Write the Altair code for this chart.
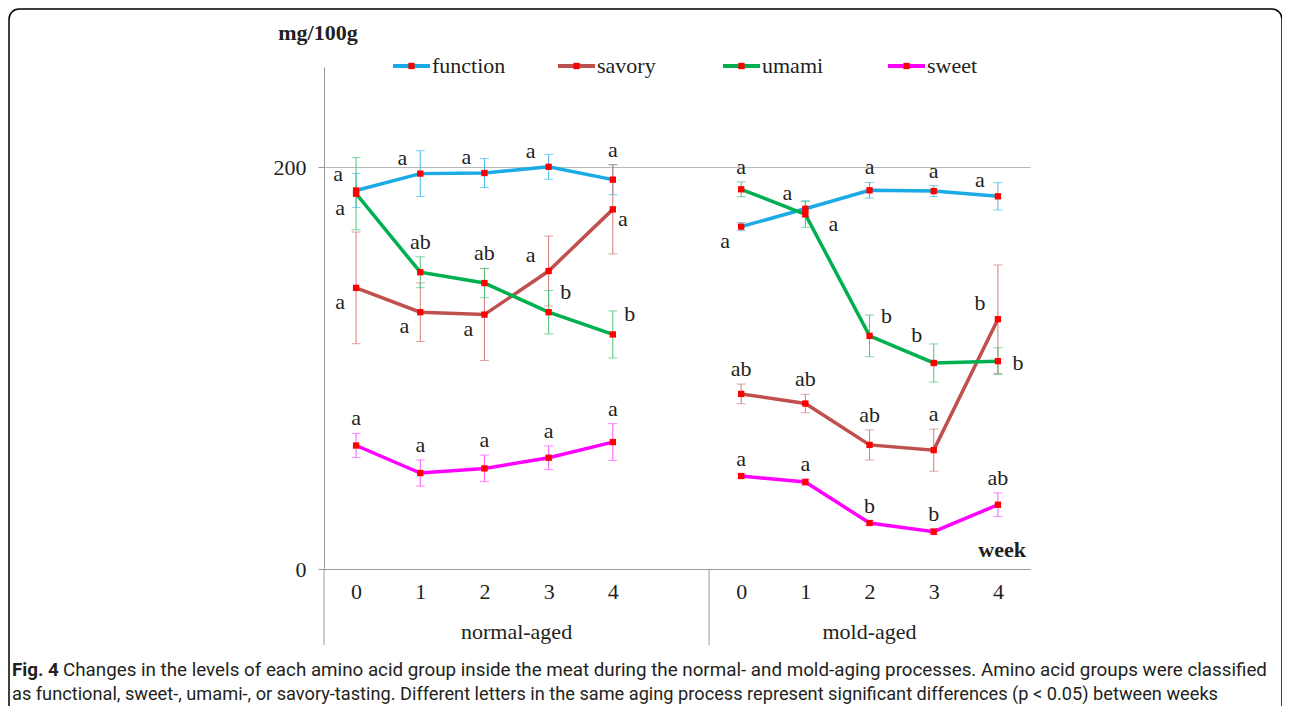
import altair as alt
import pandas as pd

# ---------------- data ----------------
weeks = [0, 1, 2, 3, 4]
processes = ["normal-aged", "mold-aged"]
series_names = ["function", "savory", "umami", "sweet"]

# normal-aged (mg/100g)
function_normal = [188.5, 196.9, 197.2, 200.3, 193.9]
function_normal_err = [8.5, 11.4, 7.2, 6.2, 7.5]
savory_normal = [140.0, 127.9, 126.7, 148.4, 179.1]
savory_normal_err = [27.8, 14.6, 22.9, 17.4, 22.2]
umami_normal = [186.9, 147.8, 142.4, 127.9, 116.8]
umami_normal_err = [18.0, 7.7, 7.3, 10.8, 11.7]
sweet_normal = [61.5, 47.8, 50.1, 55.4, 63.2]
sweet_normal_err = [6.0, 6.5, 6.6, 5.9, 9.2]

# mold-aged (mg/100g)
function_mold = [170.5, 179.4, 188.6, 188.2, 185.6]
function_mold_err = [2.0, 4.0, 3.9, 2.7, 6.8]
savory_mold = [87.2, 82.4, 61.8, 59.2, 124.4]
savory_mold_err = [4.9, 4.6, 7.5, 10.5, 27.0]
umami_mold = [189.1, 176.6, 116.1, 102.6, 103.5]
umami_mold_err = [3.7, 6.4, 10.4, 9.5, 6.7]
sweet_mold = [46.3, 43.3, 22.9, 18.6, 32.0]
sweet_mold_err = [1.0, 1.5, 1.2, 1.5, 5.9]

# significance letters
function_normal_letters = ["a", "a", "a", "a", "a"]
savory_normal_letters = ["a", "a", "a", "a", "a"]
umami_normal_letters = ["a", "ab", "ab", "b", "b"]
sweet_normal_letters = ["a", "a", "a", "a", "a"]
function_mold_letters = ["a", "a", "a", "a", "a"]
savory_mold_letters = ["ab", "ab", "ab", "a", "b"]
umami_mold_letters = ["a", "a", "b", "b", "b"]
sweet_mold_letters = ["a", "a", "b", "b", "ab"]

# where each letter sits relative to its point
function_normal_place = ["ul", "ul", "ul", "ul", "t"]
savory_normal_place = ["dl", "dl", "dl", "ul", "dr"]
umami_normal_place = ["dl", "t", "t", "ur", "ur"]
sweet_normal_place = ["t", "t", "t", "t", "t"]
function_mold_place = ["dl", "ul", "t", "t", "ul"]
savory_mold_place = ["t", "t", "t", "t", "ul"]
umami_mold_place = ["t", "dr2", "ur", "ul2", "r"]
sweet_mold_place = ["t", "t", "t", "t", "t"]

caption_line1_bold = "Fig. 4"
caption_line1 = ("Changes in the levels of each amino acid group inside the meat during the normal- and "
                 "mold-aging processes. Amino acid groups were classified")
caption_line2 = ("as functional, sweet-, umami-, or savory-tasting. Different letters in the same aging "
                 "process represent significant differences (p < 0.05) between weeks")

# ---------------- styles ----------------
line_colors = ["#1aaae6", "#c0504d", "#00b050", "#ff00ff"]
bar_colors = ["#45b9ec", "#d27c79", "#4cc479", "#ff55ff"]
SERIF = "Liberation Serif, Times New Roman, serif"
SANS = "Liberation Sans Narrow, Roboto, Noto Sans, sans-serif"
TXT = "#231f20"

table = {
    ("function", "normal-aged"): (function_normal, function_normal_err, function_normal_letters, function_normal_place),
    ("savory", "normal-aged"): (savory_normal, savory_normal_err, savory_normal_letters, savory_normal_place),
    ("umami", "normal-aged"): (umami_normal, umami_normal_err, umami_normal_letters, umami_normal_place),
    ("sweet", "normal-aged"): (sweet_normal, sweet_normal_err, sweet_normal_letters, sweet_normal_place),
    ("function", "mold-aged"): (function_mold, function_mold_err, function_mold_letters, function_mold_place),
    ("savory", "mold-aged"): (savory_mold, savory_mold_err, savory_mold_letters, savory_mold_place),
    ("umami", "mold-aged"): (umami_mold, umami_mold_err, umami_mold_letters, umami_mold_place),
    ("sweet", "mold-aged"): (sweet_mold, sweet_mold_err, sweet_mold_letters, sweet_mold_place),
}
rows = []
for (s, p), (vals, errs, lets, places) in table.items():
    for w, v, e, l, pl in zip(weeks, vals, errs, lets, places):
        rows.append(dict(series=s, process=p, week=w, value=v, err=e, letter=l, place=pl))
df = pd.DataFrame(rows)

PW, PH = 706, 502
gap = len(weeks) + 1  # one empty category slot before the mold-aged group

x_axis = alt.Axis(values=weeks + [w + gap for w in weeks],
                  labelExpr=f"'' + (datum.value > 5 ? datum.value - {gap} : datum.value)",
                  ticks=False, tickSize=0, grid=False, domainColor="#9a9a9a", domainWidth=1,
                  labelFont=SERIF, labelFontSize=22, labelColor=TXT, labelPadding=12, title=None)
y_axis = alt.Axis(values=[0, 200], tickSize=6, tickColor="#9a9a9a", domainColor="#9a9a9a",
                  grid=True, gridColor="#b8b8b8", gridWidth=1,
                  labelFont=SERIF, labelFontSize=22, labelColor=TXT, labelPadding=12, title=None)
x_scale = alt.Scale(domain=[-0.5, 2 * len(weeks) + 0.5], nice=False, zero=False)
y_scale = alt.Scale(domain=[0, 250], nice=False)

X = alt.X("xpos:Q", scale=x_scale, axis=x_axis)
line_scale = alt.Scale(domain=series_names, range=line_colors)
bar_scale = alt.Scale(domain=series_names, range=bar_colors)

base = alt.Chart(df).transform_calculate(
    xpos=f"datum.process == 'mold-aged' ? datum.week + {gap} : datum.week",
    hi="datum.value + datum.err",
    lo="datum.value - datum.err",
)

def Y(field):
    return alt.Y(f"{field}:Q", scale=y_scale, axis=y_axis)

err_rule = base.mark_rule(strokeWidth=1).encode(
    x=X, y=Y("lo"), y2="hi:Q", color=alt.Color("series:N", scale=bar_scale, legend=None))
cap_hi = base.mark_tick(orient="horizontal", size=9, thickness=1).encode(
    x=X, y=Y("hi"), color=alt.Color("series:N", scale=bar_scale, legend=None))
cap_lo = base.mark_tick(orient="horizontal", size=9, thickness=1).encode(
    x=X, y=Y("lo"), color=alt.Color("series:N", scale=bar_scale, legend=None))

lines = base.mark_line(strokeWidth=3.5).encode(
    x=X, y=Y("value"), color=alt.Color("series:N", scale=line_scale, legend=None),
    detail="process:N", order="week:Q")
points = base.mark_square(size=40, color="#ff0000", opacity=1).encode(x=X, y=Y("value"))

offsets = {"ul": (-18, -16), "ul2": (-17, -28), "dl": (-16, 14), "ur": (17, -20), "r": (20, 2),
           "dr": (10, 10), "dr2": (28, 10)}
letter_layers = [
    base.transform_filter("datum.place == 't'").mark_text(
        font=SERIF, fontSize=22, color=TXT, align="center", baseline="middle", dy=-15
    ).encode(x=X, y=Y("hi"), text="letter:N")
]
for code, (ddx, ddy) in offsets.items():
    letter_layers.append(
        base.transform_filter(f"datum.place == '{code}'").mark_text(
            font=SERIF, fontSize=22, color=TXT, align="center", baseline="middle", dx=ddx, dy=ddy
        ).encode(x=X, y=Y("value"), text="letter:N")
    )

# legend (custom: line + red square + label)
leg = pd.DataFrame({"series": series_names})
leg["lx"] = [69 + i * 165 for i in range(len(series_names))]
leg_base = alt.Chart(leg).transform_calculate(
    lx2="datum.lx + 37", sx="datum.lx + 18.5", tx="datum.lx + 39")
leg_line = leg_base.mark_rule(strokeWidth=4).encode(
    x=alt.X("lx:Q", scale=None), x2="lx2:Q", y=alt.value(-1),
    color=alt.Color("series:N", scale=line_scale, legend=None))
leg_sq = leg_base.mark_square(size=40, color="#ff0000", opacity=1).encode(
    x=alt.X("sx:Q", scale=None), y=alt.value(-1))
leg_txt = leg_base.mark_text(font=SERIF, fontSize=22, color=TXT, align="left", baseline="middle").encode(
    x=alt.X("tx:Q", scale=None), y=alt.value(-1), text="series:N")

# group labels under the category axis
grp = pd.DataFrame({"process": processes,
                    "cx": [(-0.5 + gap - 0.5) / 2, (gap - 0.5 + 2 * len(weeks) + 0.5) / 2]})
grp_txt = alt.Chart(grp).mark_text(font=SERIF, fontSize=22, color=TXT, baseline="middle").encode(
    x=alt.X("cx:Q", scale=x_scale, axis=x_axis), y=alt.value(565), text="process:N")

one = pd.DataFrame({"k": [0]})
div_rule = alt.Chart(one).mark_rule(color="#9a9a9a", strokeWidth=1).encode(
    x=alt.datum(gap - 0.5), y=alt.value(PH), y2=alt.value(578))
left_rule = alt.Chart(one).mark_rule(color="#9a9a9a", strokeWidth=1).encode(
    x=alt.value(0), y=alt.value(PH), y2=alt.value(578))

def label(text, x, y, **kw):
    return alt.Chart(pd.DataFrame({"t": [text]})).mark_text(**kw).encode(
        x=alt.value(x), y=alt.value(y), text="t:N")

unit_lbl = label("mg/100g", -6, -34, font=SERIF, fontSize=22, fontWeight="bold", color=TXT,
                 align="center", baseline="middle")
week_lbl = label("week", 702, 483, font=SERIF, fontSize=22, fontWeight="bold", color=TXT,
                 align="right", baseline="middle")
cap1b = label(caption_line1_bold, -312, 603, font=SANS, fontSize=18.8, fontWeight="bold", color=TXT,
              align="left", baseline="middle")
cap1 = label(caption_line1, -261, 603, font=SANS, fontSize=18.8, color=TXT, align="left", baseline="middle")
cap2 = label(caption_line2, -312, 628, font=SANS, fontSize=18.2, color=TXT, align="left", baseline="middle")

border = alt.Chart(one).mark_rect(fill=None, stroke="#000000", strokeWidth=1.5, cornerRadius=10).encode(
    x=alt.value(-315), x2=alt.value(958), y=alt.value(-58), y2=alt.value(720))

chart = alt.layer(
    border, err_rule, cap_hi, cap_lo, lines, points, *letter_layers,
    leg_line, leg_sq, leg_txt, grp_txt, div_rule, left_rule, unit_lbl, week_lbl, cap1b, cap1, cap2,
).resolve_scale(color="independent").properties(
    width=PW, height=PH,
    autosize=alt.AutoSizeParams(type="none"),
    padding={"left": 316, "top": 59, "right": 252, "bottom": 137},
    background="white",
).configure_view(stroke=None)

chart.save("out.html", embed_options={"renderer": "svg", "actions": False})
